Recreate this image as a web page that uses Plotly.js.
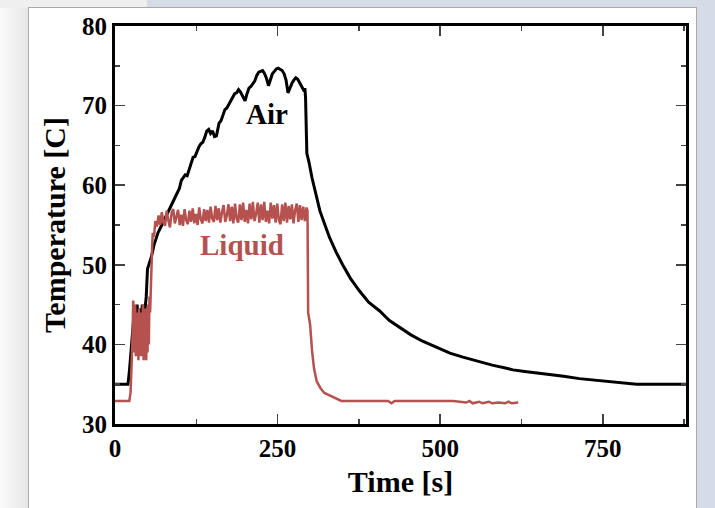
<!DOCTYPE html>
<html>
<head>
<meta charset="utf-8">
<script src="https://cdn.plot.ly/plotly-3.0.1.min.js"></script>
<style>
  html, body { margin:0; padding:0; width:715px; height:508px; overflow:hidden; background:#d5dbe7; }
  #tl { position:absolute; left:0; top:0; width:147px; height:8px; background:#efefef; }
  #ls { position:absolute; left:0; top:8px; width:28px; height:500px; background:linear-gradient(to right,#fbfbfb,#e6e6e6); }
  #panel { position:absolute; left:28px; top:7px; width:669px; height:520px; background:#ffffff; border:1px solid #a9a9a9; box-sizing:border-box; }
  #chart { position:absolute; left:0; top:0; width:715px; height:508px; }
</style>
</head>
<body>
<div id="tl"></div>
<div id="ls"></div>
<div id="panel"></div>
<div id="chart"></div>
<script>
// Air temperature [C] vs time [s]
const airTime = [0, 20, 22, 26, 30, 32, 34, 36, 38, 40, 42, 44, 46, 48, 50, 52, 56, 60, 66, 72, 78, 84, 90, 96, 99, 102, 105, 108, 111, 114, 117, 120, 123, 126, 129, 132, 135, 138, 141, 144, 147, 150, 153, 156, 160, 163, 166, 169, 172, 175, 178, 181, 184, 187, 190, 193, 196, 200, 203, 206, 209, 212, 215, 218, 221, 224, 227, 230, 233, 236, 239, 242, 245, 248, 251, 254, 257, 260, 263, 266, 269, 272, 275, 278, 281, 284, 288, 291, 292, 293, 295, 298, 303, 310, 315, 322, 330, 340, 350, 362, 376, 390, 407, 422, 438, 455, 473, 495, 515, 535, 556, 580, 602, 612, 630, 650, 664, 690, 714, 740, 765, 802, 840, 878];
const airTemp = [35, 35, 36.5, 40, 44.5, 43, 45, 42, 44.5, 43, 45, 42.5, 44, 46, 49.5, 50, 51, 52.5, 54, 55, 56, 57, 58, 59.2, 59.6, 60.6, 60.9, 61.3, 61.2, 62, 62.8, 63.5, 63.6, 64.3, 64.8, 65.2, 65.4, 66, 66.8, 67, 66.5, 66.8, 66.1, 66.2, 67.8, 68.1, 68.8, 69.5, 69.7, 70.2, 70.5, 71.2, 71.5, 71.6, 72, 71.7, 71.2, 70.6, 71.5, 72.2, 72.4, 72.8, 73.1, 73.8, 74.2, 74.3, 74.4, 74, 73.4, 72.5, 73.2, 74, 74.3, 74.6, 74.7, 74.5, 74.4, 74, 73.2, 71.6, 72.3, 72.8, 73.2, 73.5, 73.3, 72.8, 72.2, 71.8, 72.2, 71, 64, 63, 60.9, 58.5, 56.8, 55.2, 53.4, 51.6, 50, 48.3, 46.7, 45.3, 44.2, 43, 42.1, 41.2, 40.4, 39.6, 38.9, 38.4, 37.9, 37.4, 37, 36.8, 36.6, 36.4, 36.3, 36, 35.7, 35.5, 35.3, 35, 35, 35];

// Liquid temperature [C] vs time [s]
const liqTime = [0, 22, 24, 26, 27, 28, 29, 30, 31, 32, 33, 34, 35, 36, 37, 38, 39, 40, 41, 42, 43, 44, 45, 46, 47, 48, 49, 50, 51, 52, 53, 54, 55, 56, 57, 58, 60,
  62, 64.5, 67, 69.5, 72, 74.5, 77, 79.5, 82, 84.5, 87, 89.5, 92, 94.5, 97, 99.5, 102, 104.5, 107, 109.5, 112, 114.5, 117, 119.5, 122, 124.5, 127, 129.5, 132, 134.5, 137, 139.5, 142, 144.5, 147, 149.5, 152, 154.5, 157, 159.5, 162, 164.5, 167, 169.5, 172, 174.5, 177, 179.5, 182, 184.5, 187, 189.5, 192, 194.5, 197, 199.5, 202, 204.5, 207, 209.5, 212, 214.5, 217, 219.5, 222, 224.5, 227, 229.5, 232, 234.5, 237, 239.5, 242, 244.5, 247, 249.5, 252, 254.5, 257, 259.5, 262, 264.5, 267, 269.5, 272, 274.5, 277, 279.5, 282, 284.5, 287, 289.5, 292, 294.5, 296,
  297, 300, 303, 306, 310, 316, 322, 330, 340, 348, 380, 420, 425, 430, 470, 520, 540, 545, 550, 560, 565, 575, 580, 590, 600, 605, 610, 620];
const liqTemp = [32.9, 32.9, 34, 38, 41, 45.5, 44, 39, 45, 38.5, 44, 40, 43.5, 38, 44.5, 39, 43, 38.5, 44, 39, 45, 38, 43, 39.5, 44.5, 38, 43, 39, 45, 40, 46, 44, 48, 50, 52, 54, 53.5,
  55.5, 54.8, 56.2, 55.0, 56.6, 55.3, 54.9, 56.8, 55.6, 54.7, 56.5, 57.0, 55.2, 55.9, 56.9, 55.0, 56.3, 54.9, 57.0, 55.6, 55.1, 56.8, 55.4, 57.1, 55.2, 56.4, 55.0, 57.2, 55.7, 55.2, 57.0, 55.5, 56.9, 55.3, 57.3, 55.8, 55.4, 57.4, 55.6, 57.1, 55.3, 56.6, 57.5, 55.4, 56.2, 57.6, 55.5, 57.3, 55.2, 57.7, 55.8, 55.3, 57.6, 55.6, 57.8, 55.4, 56.9, 55.2, 57.7, 55.7, 57.9, 55.5, 56.4, 57.8, 55.3, 57.6, 55.6, 57.9, 55.4, 56.8, 55.2, 57.8, 55.8, 57.5, 55.3, 57.7, 55.6, 55.1, 57.6, 55.5, 57.8, 55.3, 57.4, 55.7, 57.6, 55.2, 56.9, 57.7, 55.4, 57.5, 55.6, 57.3, 55.5, 57.2, 56.8,
  44, 42.5, 39.2, 37, 35.4, 34.5, 33.9, 33.6, 33.2, 32.9, 32.9, 32.9, 32.6, 32.9, 32.9, 32.9, 32.7, 32.9, 32.6, 32.8, 32.6, 32.8, 32.6, 32.7, 32.6, 32.8, 32.6, 32.7];

const xTicks = [0, 250, 500, 750];
const yTicks = [30, 40, 50, 60, 70, 80];

const serif = 'Liberation Serif, Times New Roman, serif';
const axisCommon = {
  showline: true, linewidth: 3, linecolor: '#000', mirror: 'ticks',
  ticks: 'inside', ticklen: 10, tickwidth: 1.5, tickcolor: '#444',
  showgrid: false, zeroline: false,
  tickfont: {family: serif, size: 25, color: '#000', weight: 'bold'}
};

const traces = [
  {x: airTime, y: airTemp, mode: 'lines', line: {color: '#000000', width: 3}, hoverinfo: 'none'},
  {x: liqTime, y: liqTemp, mode: 'lines', line: {color: '#b5524f', width: 2.5}, hoverinfo: 'none'}
];

const layout = {
  width: 715, height: 508,
  margin: {l: 115, r: 29, t: 26, b: 84},
  paper_bgcolor: 'rgba(0,0,0,0)', plot_bgcolor: '#ffffff',
  showlegend: false,
  xaxis: Object.assign({}, axisCommon, {
    range: [0, 878], tickvals: xTicks, ticktext: xTicks.map(String),
    minor: {dtick: 125, tick0: 0, ticks: 'inside', ticklen: 5, tickwidth: 1.5, tickcolor: '#444', showgrid: false},
    title: {text: 'Time [s]', font: {family: serif, size: 30, color: '#000', weight: 'bold'}, standoff: 10}
  }),
  yaxis: Object.assign({}, axisCommon, {
    range: [30, 80], tickvals: yTicks, ticktext: yTicks.map(String),
    minor: {dtick: 5, tick0: 30, ticks: 'inside', ticklen: 5, tickwidth: 1.5, tickcolor: '#444', showgrid: false},
    title: {text: 'Temperature [C]', font: {family: serif, size: 30, color: '#000', weight: 'bold'}, standoff: 8}
  }),
  annotations: [
    {x: 234, y: 69, xref: 'x', yref: 'y', text: 'Air', showarrow: false,
     font: {family: serif, size: 29, color: '#000', weight: 'bold'}},
    {x: 196, y: 52.5, xref: 'x', yref: 'y', text: 'Liquid', showarrow: false,
     font: {family: serif, size: 29, color: '#b5524f', weight: 'bold'}}
  ]
};

Plotly.newPlot('chart', traces, layout, {displayModeBar: false, staticPlot: true});
</script>
</body>
</html>
